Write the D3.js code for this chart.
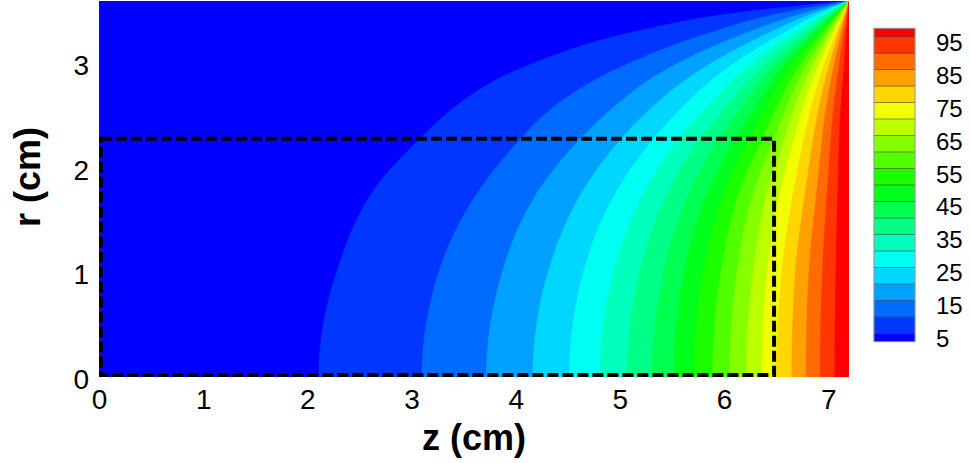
<!DOCTYPE html>
<html>
<head>
<meta charset="utf-8">
<script src="https://cdn.jsdelivr.net/npm/d3@7"></script>
<style>
  html, body { margin: 0; padding: 0; background: #fff; }
  svg text { font-family: "Liberation Sans", Arial, sans-serif; fill: #000; }
</style>
</head>
<body>
<div id="chart"></div>
<script>

// contour levels and legend labels
const levels = [5,10,15,20,25,30,35,40,45,50,55,60,65,70,75,80,85,90,95];
const legendLabels = [5,15,25,35,45,55,65,75,85,95];
const zTicks = [0,1,2,3,4,5,6,7];
const rTicks = [0,1,2,3];

const zMax = 7.2;
const rMax = 3.6;

// dashed region
const zBox = 6.5;
const rBox = 2.3;

const rRows = [0, 1.0, 1.9, 2.3, 2.5, 3.0, 3.3, 3.5];

// z (cm) where each level (5..95) crosses the row
const zAtR00 = [2.11,3.10,3.72,4.165,4.515,4.81,5.07,5.31,5.52,5.71,5.89,6.055,6.215,6.365,6.505,6.65,6.787,6.924,7.063];
const zAtR10 = [2.28,3.26,3.87,4.31,4.65,4.94,5.19,5.42,5.62,5.80,5.97,6.125,6.28,6.415,6.553,6.685,6.815,6.945,7.075];
const zAtR19 = [2.72,3.73,4.30,4.72,5.045,5.31,5.53,5.735,5.905,6.06,6.195,6.325,6.45,6.57,6.69,6.80,6.905,7.0,7.095];
const zAtR23 = [3.10,4.065,4.64,5.03,5.34,5.585,5.78,5.965,6.12,6.255,6.38,6.49,6.59,6.68,6.77,6.86,6.945,7.028,7.108];
const zAtR25 = [3.31,4.26,4.845,5.22,5.52,5.76,5.95,6.11,6.25,6.365,6.47,6.565,6.65,6.735,6.815,6.895,6.97,7.045,7.117];
const zAtR30 = [4.16,5.08,5.55,5.87,6.09,6.26,6.395,6.495,6.585,6.66,6.735,6.80,6.86,6.915,6.965,7.015,7.06,7.108,7.155];
const zAtR33 = [5.12,5.88,6.23,6.44,6.585,6.68,6.77,6.83,6.88,6.92,6.955,6.99,7.02,7.05,7.078,7.102,7.128,7.152,7.176];
const zAtR35 = [6.22,6.62,6.82,6.905,6.963,7.003,7.035,7.06,7.082,7.10,7.115,7.127,7.139,7.149,7.159,7.168,7.176,7.184,7.192];

const rows = [zAtR00, zAtR10, zAtR19, zAtR23, zAtR25, zAtR30, zAtR33, zAtR35];

const W = 971, H = 463;

const x = d3.scaleLinear().domain([0, zMax]).range([99, 849]);
const y = d3.scaleLinear().domain([0, rMax]).range([377, 1]);

// rainbow, one colour per band (below 5, 5-10, ... , above 95)
const rainbow = d3.scaleLinear()
	.domain([0, 0.25, 0.5, 0.75, 1])
	.range(["#0000ff", "#00ffff", "#00ff00", "#ffff00", "#ff0000"]);
const bandColors = d3.range(levels.length + 1).map(i => rainbow(i / levels.length));

const svg = d3.select("#chart").append("svg")
	.attr("width", W)
	.attr("height", H);

svg.append("defs").append("clipPath")
	.attr("id", "plotclip")
	.append("rect")
	.attr("x", x(0))
	.attr("y", y(rMax))
	.attr("width", x(zMax) - x(0))
	.attr("height", y(0) - y(rMax));

const plot = svg.append("g").attr("clip-path", "url(#plotclip)");

plot.append("rect")
	.attr("x", x(0))
	.attr("y", y(rMax))
	.attr("width", x(zMax) - x(0))
	.attr("height", y(0) - y(rMax))
	.style("fill", bandColors[0]);

// points of one contour, from the corner down to r=0 and mirrored below the axis
function contourPoints(i) {
	const pts = [{r: rMax, z: zMax}];
	for (let k = rRows.length - 1; k >= 0; k--) pts.push({r: rRows[k], z: rows[k][i]});
	pts.push({r: -rRows[1], z: rows[1][i]});
	pts.push({r: -rRows[2], z: rows[2][i]});
	return pts;
}

const band = d3.area()
	.curve(d3.curveMonotoneY)
	.y(d => y(d.r))
	.x0(d => x(d.z))
	.x1(x(zMax) + 2);

plot.selectAll(".band")
	.data(levels)
	.enter()
	.append("path")
	.attr("class", "band")
	.attr("d", (d, i) => band(contourPoints(i)))
	.style("fill", (d, i) => bandColors[i + 1])
	.style("stroke", (d, i) => bandColors[i + 1])
	.style("stroke-width", 0.5);

// dashed box, stroke kept inside the region
svg.append("rect")
	.attr("x", x(0) + 2)
	.attr("y", y(rBox) + 2)
	.attr("width", x(zBox) - x(0) - 4)
	.attr("height", y(0) - y(rBox) - 4)
	.style("fill", "none")
	.style("stroke", "#000")
	.style("stroke-width", 4)
	.style("stroke-dasharray", "11,4");

// axes
const xAxis = svg.append("g")
	.attr("transform", `translate(0,${y(0)})`)
	.call(d3.axisBottom(x).tickValues(zTicks).tickSize(0).tickPadding(12).tickFormat(d3.format("d")));
xAxis.select(".domain").remove();
xAxis.selectAll("text")
	.style("font-size", "28px")
	.style("font-family", "Liberation Sans, Arial, sans-serif")
	.style("fill", "#000");

const yAxis = svg.append("g")
	.attr("transform", `translate(${x(0)},0)`)
	.call(d3.axisLeft(y).tickValues(rTicks).tickSize(0).tickPadding(10).tickFormat(d3.format("d")));
yAxis.select(".domain").remove();
yAxis.selectAll("text")
	.attr("dy", "0.4em")
	.style("font-size", "28px")
	.style("font-family", "Liberation Sans, Arial, sans-serif")
	.style("fill", "#000");

svg.append("text")
	.attr("x", (x(0) + x(zMax)) / 2)
	.attr("y", 450)
	.attr("text-anchor", "middle")
	.style("font-size", "36px")
	.style("font-weight", "bold")
	.text("z (cm)");

svg.append("text")
	.attr("transform", `translate(40,${(y(0) + y(rMax)) / 2 - 12}) rotate(-90)`)
	.attr("text-anchor", "middle")
	.style("font-size", "36px")
	.style("font-weight", "bold")
	.text("r (cm)");

// legend
const cbY = d3.scaleLinear().domain([2.5, 97.5]).range([341.7, 28.3]);
const cbX = 874, cbW = 41;
const edges = [2.5].concat(levels, [97.5]);

const legend = svg.append("g").attr("class", "legend");

legend.selectAll(".swatch")
	.data(bandColors)
	.enter()
	.append("rect")
	.attr("class", "swatch")
	.attr("x", cbX)
	.attr("y", (d, i) => cbY(edges[i + 1]))
	.attr("width", cbW)
	.attr("height", (d, i) => cbY(edges[i]) - cbY(edges[i + 1]))
	.style("fill", d => d)
	.style("stroke", d => d)
	.style("stroke-width", 0.5);

legend.selectAll(".lvl")
	.data(levels)
	.enter()
	.append("line")
	.attr("class", "lvl")
	.attr("x1", cbX)
	.attr("x2", cbX + cbW)
	.attr("y1", d => cbY(d))
	.attr("y2", d => cbY(d))
	.style("stroke", "#333")
	.style("stroke-opacity", 0.7)
	.style("stroke-width", 0.8);

legend.append("rect")
	.attr("x", cbX)
	.attr("y", cbY(97.5))
	.attr("width", cbW)
	.attr("height", cbY(2.5) - cbY(97.5))
	.style("fill", "none")
	.style("stroke", "#999")
	.style("stroke-width", 1);

legend.selectAll(".lbl")
	.data(legendLabels)
	.enter()
	.append("text")
	.attr("class", "lbl")
	.attr("x", 936)
	.attr("y", d => cbY(d) + 14)
	.style("font-size", "24px")
	.text(d => d);

</script>
</body>
</html>
